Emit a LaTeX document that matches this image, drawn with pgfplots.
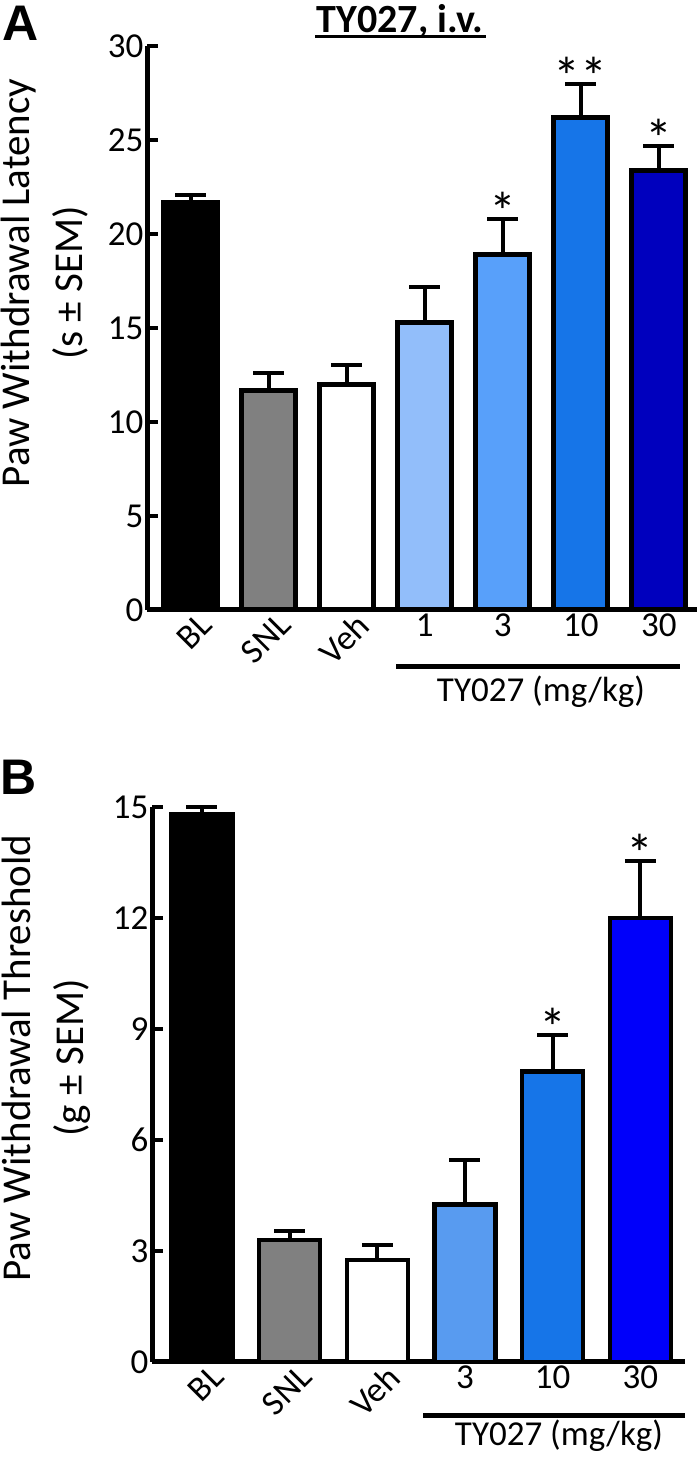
\documentclass[border=0pt]{standalone}
\usepackage{fontspec}
\setmainfont{Carlito}
\newfontfamily\panelfont{Liberation Sans}
\usepackage{pgfplots}
\pgfplotsset{compat=1.18}

\definecolor{snlgray}{RGB}{128,128,128}
\definecolor{aone}{RGB}{146,190,250}
\definecolor{athree}{RGB}{88,160,250}
\definecolor{aten}{RGB}{22,117,232}
\definecolor{athirty}{RGB}{0,0,190}
\definecolor{bthree}{RGB}{88,155,240}
\definecolor{bten}{RGB}{22,117,232}
\definecolor{bthirty}{RGB}{0,0,250}

\newcommand\tickfont{\fontsize{35}{35}\selectfont}

\pgfplotsset{
  panel/.style={
    scale only axis,
    anchor=south west,
    clip=false,
    axis x line=bottom,
    axis y line=left,
    axis line style={line width=5pt,-},
    ymin=0,
    tick align=inside,
    major tick length=11pt,
    major x tick style={draw=none},
    major y tick style={line width=4pt,black},
    tick label style={font=\tickfont},
    /pgf/number format/assume math mode=true,
    extra x ticks={0,1,2},
    extra x tick labels={BL,SNL,Veh},
    extra x tick style={major tick length=0pt,
      tick label style={rotate=45,anchor=north east,xshift=8pt,yshift=-3pt}},
    error bars/y dir=plus,
    error bars/y explicit,
    error bars/error bar style={line width=4pt,black},
    error bars/error mark options={rotate=90,mark size=15.5pt,line width=4pt,black},
  },
  dbar/.style={ybar,bar shift=0pt,draw=black,line width=5pt},
}
\tikzset{sigstar/.style={anchor=base,inner sep=0pt,font=\fontsize{54}{54}\selectfont,yshift=-12pt}}

\begin{document}
\begin{tikzpicture}[x=1pt,y=1pt]
\useasboundingbox (0pt,0pt) rectangle (698pt,1457pt);

% ---------- panel A ----------
\begin{axis}[panel,
  at={(147pt,847pt)}, width=550pt, height=564pt,
  xmin=-0.56, xmax=6.49, ymax=30,
  ytick={0,5,...,30},
  xtick={3,4,5,6}, xticklabels={1,3,10,30},
  bar width=54pt]
\addplot[dbar,fill=black]     coordinates {(0,21.7) +- (0,0.4)};
\addplot[dbar,fill=snlgray]   coordinates {(1,11.7) +- (0,0.9)};
\addplot[dbar,fill=white]     coordinates {(2,12.0) +- (0,1.05)};
\addplot[dbar,fill=aone]      coordinates {(3,15.3) +- (0,1.9)};
\addplot[dbar,fill=athree]    coordinates {(4,18.9) +- (0,1.9)};
\addplot[dbar,fill=aten]      coordinates {(5,26.2) +- (0,1.8)};
\addplot[dbar,fill=athirty]   coordinates {(6,23.4) +- (0,1.3)};
\node[sigstar] at (axis cs:4,20.8) {*};
\node[sigstar] at (axis cs:5,28.0) {**};
\node[sigstar] at (axis cs:6,24.7) {*};
\end{axis}

% ---------- panel B ----------
\begin{axis}[panel,
  at={(152pt,95pt)}, width=533pt, height=555pt,
  xmin=-0.57, xmax=5.51, ymax=15,
  ytick={0,3,...,15},
  xtick={3,4,5}, xticklabels={3,10,30},
  bar width=61pt]
\addplot[dbar,line width=4.5pt,fill=black]   coordinates {(0,14.8) +- (0,0.2)};
\addplot[dbar,line width=4.5pt,fill=snlgray] coordinates {(1,3.3) +- (0,0.25)};
\addplot[dbar,line width=4.5pt,fill=white]   coordinates {(2,2.75) +- (0,0.4)};
\addplot[dbar,line width=4.5pt,fill=bthree]  coordinates {(3,4.25) +- (0,1.2)};
\addplot[dbar,line width=4.5pt,fill=bten]    coordinates {(4,7.85) +- (0,1.0)};
\addplot[dbar,line width=4.5pt,fill=bthirty] coordinates {(5,12.0) +- (0,1.55)};
\node[sigstar] at (axis cs:4,8.85) {*};
\node[sigstar] at (axis cs:5,13.55) {*};
\end{axis}

% panel letters, title, y labels
\node[font=\panelfont\bfseries\fontsize{50}{50}\selectfont] at (21pt,1434pt) {A};
\node[font=\panelfont\bfseries\fontsize{50}{50}\selectfont] at (19pt,680pt) {B};
\node[font=\bfseries\fontsize{40}{40}\selectfont] at (400pt,1436pt) {TY027, i.v.};
\draw[line width=3pt] (315pt,1420pt) -- (486pt,1420pt);

\node[rotate=90,align=center,font=\fontsize{41}{53}\selectfont] at (45pt,1174pt)
  {Paw Withdrawal Latency\\(s ± SEM)};
\node[rotate=90,align=center,font=\fontsize{41}{53}\selectfont] at (46pt,399pt)
  {Paw Withdrawal Threshold\\(g ± SEM)};

% dose brackets
\draw[line width=5pt] (396pt,790pt) -- (680pt,790pt);
\node[font=\tickfont] at (541pt,765pt) {TY027 (mg/kg)};
\draw[line width=5pt] (423pt,41pt) -- (685pt,41pt);
\node[font=\tickfont] at (559pt,21pt) {TY027 (mg/kg)};
\end{tikzpicture}
\end{document}
